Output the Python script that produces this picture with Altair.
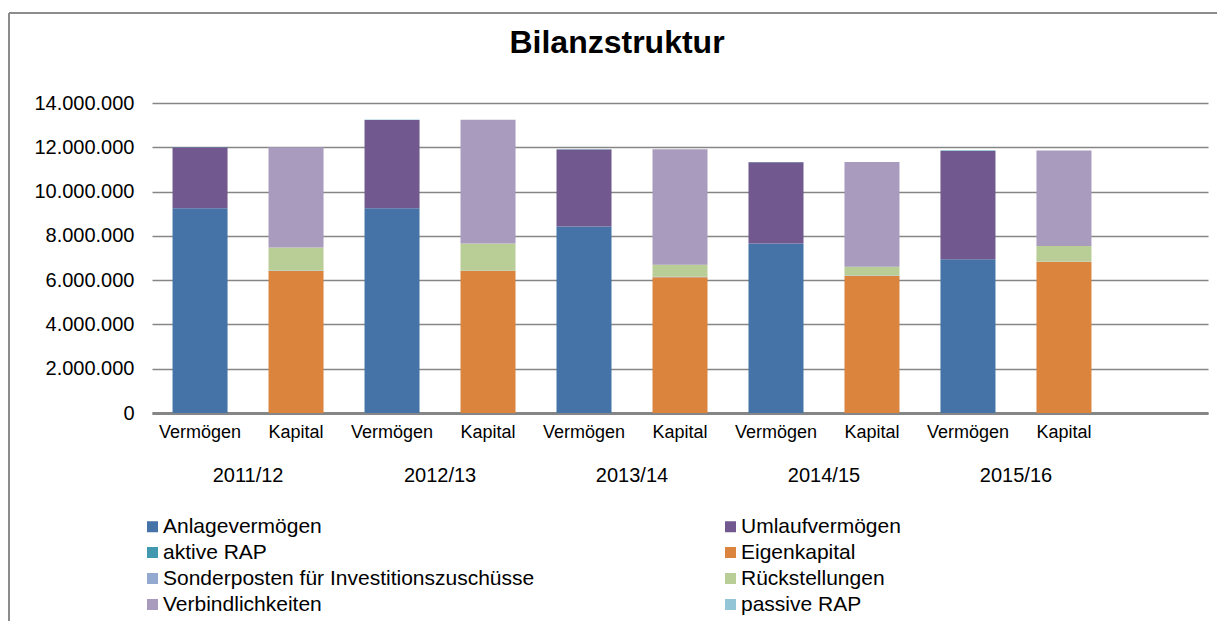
import altair as alt
import pandas as pd

years = ["2011/12", "2012/13", "2013/14", "2014/15", "2015/16"]
series = ["Anlagevermögen", "Umlaufvermögen", "aktive RAP", "Eigenkapital",
          "Sonderposten für Investitionszuschüsse", "Rückstellungen",
          "Verbindlichkeiten", "passive RAP"]
colors = ["#4572A7", "#71588F", "#4198AF", "#DB843D",
          "#93A9CF", "#B9CD96", "#A99BBD", "#92C5D6"]
# legend is filled column by column: left column first, then right column
legend_order = ["Anlagevermögen", "aktive RAP", "Sonderposten für Investitionszuschüsse",
                "Verbindlichkeiten", "Umlaufvermögen", "Eigenkapital",
                "Rückstellungen", "passive RAP"]

anlagevermoegen = [9250000, 9250000, 8420000, 7660000, 6940000]
umlaufvermoegen = [2740000, 3980000, 3480000, 3660000, 4890000]
aktive_rap = [10000, 10000, 10000, 10000, 30000]
eigenkapital = [6410000, 6420000, 6130000, 6190000, 6830000]
sonderposten = [30000, 20000, 20000, 20000, 10000]
rueckstellungen = [1030000, 1220000, 550000, 400000, 700000]
verbindlichkeiten = [4530000, 5580000, 5210000, 4720000, 4320000]
passive_rap = [0, 0, 0, 0, 0]

side_of = {
    "Anlagevermögen": ("V", anlagevermoegen),
    "Umlaufvermögen": ("V", umlaufvermoegen),
    "aktive RAP": ("V", aktive_rap),
    "Eigenkapital": ("K", eigenkapital),
    "Sonderposten für Investitionszuschüsse": ("K", sonderposten),
    "Rückstellungen": ("K", rueckstellungen),
    "Verbindlichkeiten": ("K", verbindlichkeiten),
    "passive RAP": ("K", passive_rap),
}
color_of = dict(zip(series, colors))

slots = []
for i in range(len(years)):
    slots += [f"V{i}", f"K{i}"]
slots.append("X")

rows = []
for s_idx, name in enumerate(series):
    side, vals = side_of[name]
    for i, v in enumerate(vals):
        rows.append({"slot": f"{side}{i}", "series": name, "value": v, "ord": s_idx})
df = pd.DataFrame(rows)
ydf = pd.DataFrame({"slot": [f"V{i}" for i in range(len(years))], "year": years})

W, H = 1056, 310
FONT = "Liberation Sans"

xscale = alt.Scale(domain=slots, paddingInner=0.427, paddingOuter=0.214)

bars = alt.Chart(df).mark_bar().encode(
    x=alt.X("slot:N", scale=xscale, sort=slots,
            axis=alt.Axis(title=None, labelAngle=0, ticks=False, domain=True,
                          domainColor="#868686", domainWidth=3,
                          labelFontSize=18, labelColor="#000000", labelPadding=10,
                          labelFont=FONT,
                          labelExpr="substring(datum.value,0,1)=='V' ? 'Vermögen' : (substring(datum.value,0,1)=='K' ? 'Kapital' : '')")),
    y=alt.Y("value:Q", stack="zero",
            scale=alt.Scale(domain=[0, 14000000], nice=False),
            axis=alt.Axis(title=None, values=list(range(0, 14000001, 2000000)),
                          ticks=False, domain=False, grid=True,
                          gridColor="#868686", gridWidth=1.5,
                          labelFontSize=20, labelColor="#000000", labelPadding=18,
                          labelFont=FONT,
                          labelExpr="replace(format(datum.value, ',d'), regexp(',', 'g'), '.')")),
    color=alt.Color("series:N",
                    scale=alt.Scale(domain=legend_order,
                                    range=[color_of[s] for s in legend_order]),
                    legend=alt.Legend(title=None, orient="none", legendX=-10, legendY=413,
                                      columns=2, columnPadding=185, rowPadding=4,
                                      symbolType="square", symbolSize=121,
                                      symbolStrokeWidth=0, labelFontSize=21,
                                      labelFont=FONT, labelColor="#000000",
                                      labelOffset=0, labelLimit=600)),
    order=alt.Order("ord:Q"),
)

yrs = alt.Chart(ydf).mark_text(fontSize=20, font=FONT, color="#000000", dx=48).encode(
    x=alt.X("slot:N", scale=xscale, sort=slots),
    y=alt.value(H + 63),
    text="year:N",
)

frame = alt.Chart(pd.DataFrame({"k": [0]})).mark_rule(color="#8c8c8c", strokeWidth=2).encode(
    x=alt.value(-143), x2=alt.value(W + 20), y=alt.value(-90)
)
frame2 = alt.Chart(pd.DataFrame({"k": [0]})).mark_rule(color="#8c8c8c", strokeWidth=2).encode(
    x=alt.value(-143), y=alt.value(-90), y2=alt.value(H + 310)
)

chart = alt.layer(frame, frame2, bars, yrs).properties(
    width=W, height=H,
    title=alt.TitleParams("Bilanzstruktur", fontSize=32, font=FONT, fontWeight="bold",
                          color="#000000", anchor="middle", dx=-63, offset=-48),
    autosize=alt.AutoSizeParams(type="none"),
    padding={"left": 144, "top": 95, "right": 9, "bottom": 208},
).configure_view(stroke=None)

chart.save("out.html", embed_options={"renderer": "svg", "actions": False})
